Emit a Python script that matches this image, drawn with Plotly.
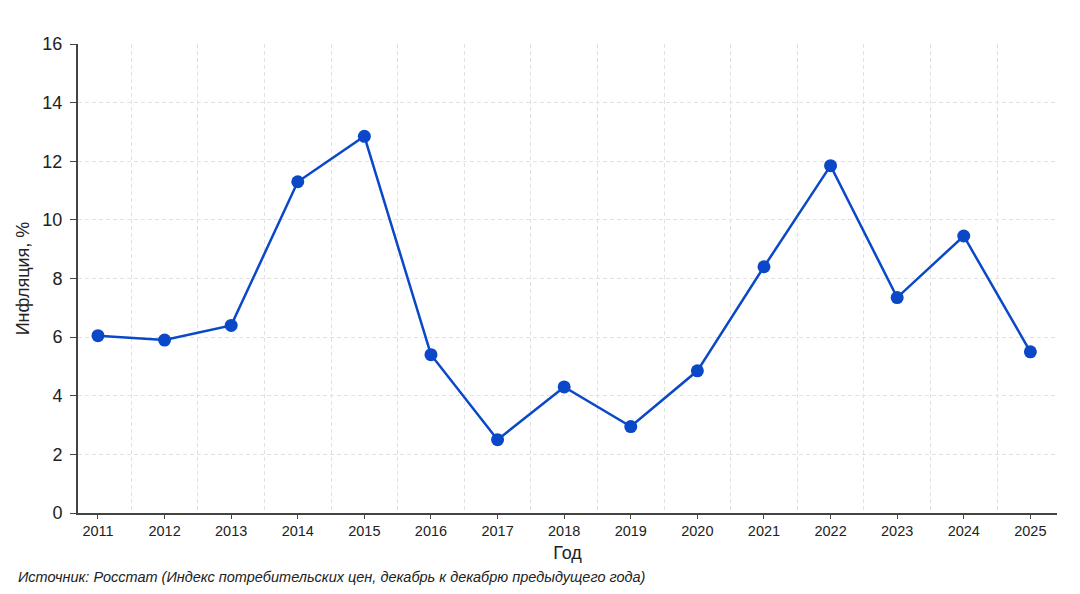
import plotly.graph_objects as go

years = list(range(2011, 2026))
inflation = [6.05, 5.9, 6.4, 11.3, 12.85, 5.4, 2.5, 4.3, 2.95, 4.85, 8.4, 11.85, 7.35, 9.45, 5.5]
y_ticks = [0, 2, 4, 6, 8, 10, 12, 14, 16]
x_title = "Год"
y_title = "Инфляция, %"
source = "Источник: Росстат (Индекс потребительских цен, декабрь к декабрю предыдущего года)"

color = "#0a48c8"
font = "Liberation Sans, Arial, sans-serif"

fig = go.Figure()
fig.add_trace(go.Scatter(
    x=years, y=inflation, mode="lines+markers",
    line=dict(color=color, width=2.5),
    marker=dict(color=color, size=13),
    hoverinfo="x+y", showlegend=False,
))

# page body has an 8px margin
off = 8
W, H = 1080 - off, 594 - off
ml, mr, mt, mb = 78 - off, 23, 44 - off, 81
pw = W - ml - mr
ph = H - mt - mb

grid = "#e2e2e2"
fig.update_layout(
    width=W, height=H,
    margin=dict(l=ml, r=mr, t=mt, b=mb),
    paper_bgcolor="white", plot_bgcolor="white",
    font=dict(family=font, color="#222"),
    xaxis=dict(
        range=[2010.7, 2025.4],
        tickvals=years, ticktext=[str(y) for y in years],
        tickfont=dict(size=14.5, color="#222"),
        showgrid=False, zeroline=False,
        showline=True, linecolor="#444", linewidth=2,
        ticks="outside", ticklen=4, tickcolor="#444", tickwidth=1,
        minor=dict(tick0=2010.5, dtick=1, showgrid=True, gridcolor=grid,
                   griddash="4px,3px", gridwidth=1, ticks=""),
        title=dict(text=x_title, font=dict(size=18, color="#222"), standoff=8),
    ),
    yaxis=dict(
        range=[0, 16], tickvals=y_ticks,
        tickfont=dict(size=18, color="#222"),
        ticklabelstandoff=4,
        showgrid=True, gridcolor=grid, griddash="4px,3px", gridwidth=1,
        zeroline=False,
        showline=True, linecolor="#444", linewidth=2,
        ticks="outside", ticklen=6, tickcolor="#444", tickwidth=1,
        title=dict(text=y_title, font=dict(size=18, color="#222"), standoff=8),
    ),
    annotations=[dict(
        text=source, xref="paper", yref="paper",
        x=(16 - 78) / pw, y=(513 - 577) / ph,
        xanchor="left", yanchor="middle", showarrow=False,
        font=dict(size=14.5, color="#222", family=font, style="italic"),
    )],
)

fig.write_html("out.html")
